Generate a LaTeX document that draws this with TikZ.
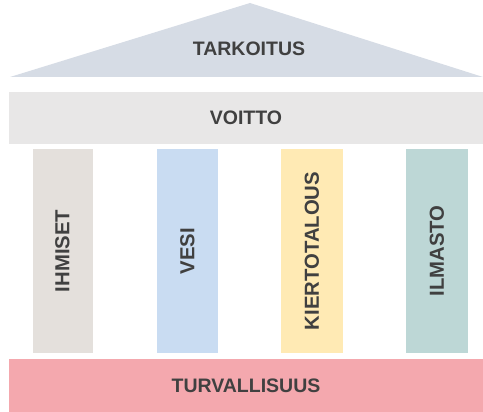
\documentclass[tikz,border=0pt]{standalone}
\usepackage{fontspec}
\setmainfont{Liberation Sans}
\usepackage{tikz}

\definecolor{roofcol}{HTML}{D6DCE5}
\definecolor{beamcol}{HTML}{E8E7E7}
\definecolor{peoplecol}{HTML}{E4E0DC}
\definecolor{watercol}{HTML}{C9DCF2}
\definecolor{circcol}{HTML}{FFEAB4}
\definecolor{climatecol}{HTML}{BDD7D6}
\definecolor{basecol}{HTML}{F4A8AE}
\definecolor{txtcol}{HTML}{404040}

\begin{document}
\begin{tikzpicture}[x=1pt,y=-1pt,
    every node/.style={font=\bfseries\fontsize{19.5}{22}\selectfont,text=txtcol,inner sep=0pt,outer sep=0pt},
    band/.style={minimum width=474pt,minimum height=53pt},
    pillar/.style={rotate=90,minimum width=204pt,minimum height=61pt,font=\bfseries\fontsize{20.3}{22}\selectfont}]
    \useasboundingbox (0,0) rectangle (483,412);
    \fill[roofcol] (10,77) -- (250,3) -- (483,77) -- cycle;
    \node (purpose) at (249,48.5) {TARKOITUS};
    \node[band,fill=beamcol,minimum height=52pt] (profit) at (246,118) {VOITTO};
    \node[pillar,fill=peoplecol,minimum height=60pt] (people) at (62.5,251) {IHMISET};
    \node[pillar,fill=watercol] (water) at (187.5,251) {VESI};
    \node[pillar,fill=circcol,minimum height=62pt] (circular) at (312,251) {KIERTOTALOUS};
    \node[pillar,fill=climatecol,minimum height=62pt] (climate) at (437,251) {ILMASTO};
    \node[band,fill=basecol] (safety) at (246,385.5) {TURVALLISUUS};
\end{tikzpicture}
\end{document}
